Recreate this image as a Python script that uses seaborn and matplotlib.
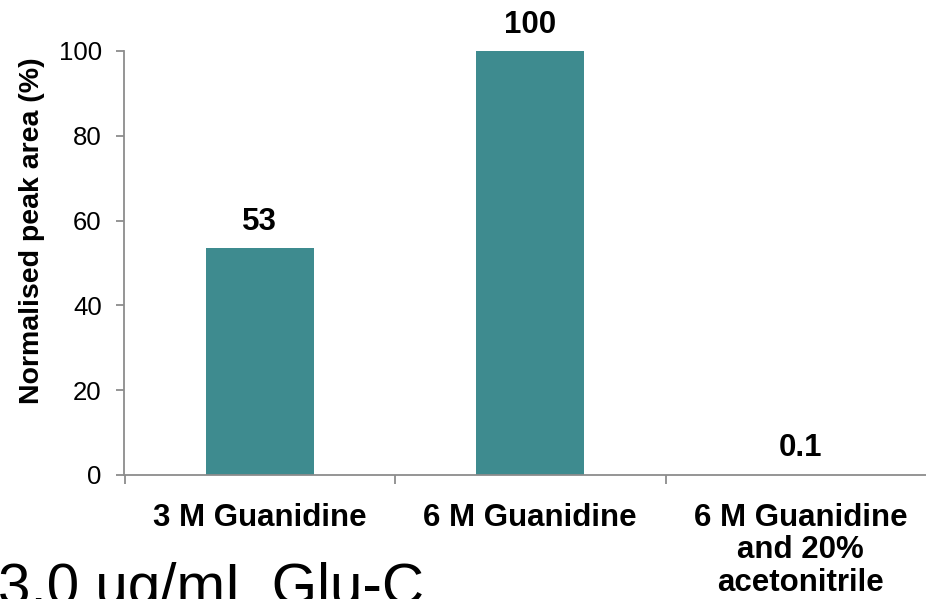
import matplotlib
matplotlib.use("Agg")
import matplotlib.pyplot as plt
import seaborn as sns
import pandas as pd
from matplotlib.ticker import FixedLocator

categories = ["3 M Guanidine", "6 M Guanidine", "6 M Guanidine\nand 20%\nacetonitrile"]
values = [53.5, 100, 0.1]
value_labels = ["53", "100", "0.1"]
y_ticks = [0, 20, 40, 60, 80, 100]
y_label = "Normalised peak area (%)"
footer = "3.0 ug/mL Glu-C"

sns.set_style("white")
plt.rcParams["font.family"] = ["Liberation Sans", "DejaVu Sans"]
plt.rcParams["text.color"] = "black"
plt.rcParams["xtick.labelcolor"] = "black"
plt.rcParams["ytick.labelcolor"] = "black"

W, H = 926, 599
fig = plt.figure(figsize=(W / 100, H / 100), dpi=100)
ax_left, ax_right = 124.5, 936.0
ax_top, ax_bottom = 51.0, 475.0
ax = fig.add_axes([ax_left / W, (H - ax_bottom) / H, (ax_right - ax_left) / W, (ax_bottom - ax_top) / H])

df = pd.DataFrame({"cat": categories, "val": values})
bar_color = "#3E8B8F"
sns.barplot(data=df, x="cat", y="val", color=bar_color, width=0.4, ax=ax,
            saturation=1, edgecolor="none", linewidth=0)

ax.set_xlim(-0.5, 2.5)
ax.set_ylim(0, 100)
ax.set_yticks(y_ticks)
ax.set_xlabel("")
ax.set_ylabel("")

spine_color = "#8C8C8C"
for s in ["top", "right"]:
    ax.spines[s].set_visible(False)
for s in ["left", "bottom"]:
    ax.spines[s].set_color(spine_color)
    ax.spines[s].set_linewidth(1.3)
ax.spines["bottom"].set_clip_on(False)

ax.tick_params(axis="y", which="major", direction="out", length=5.8, width=1.3,
               color=spine_color, labelsize=18.5, pad=10.5, left=True,
               labelcolor="black")
ax.tick_params(axis="x", which="major", length=0, labelsize=22.5, pad=20,
               labelcolor="black")
ax.xaxis.set_minor_locator(FixedLocator([-0.5, 0.5, 1.5, 2.5]))
ax.tick_params(axis="x", which="minor", direction="out", length=6.5, width=1.3,
               color=spine_color, bottom=True)
for lab in ax.get_xticklabels():
    lab.set_fontweight("bold")
    lab.set_linespacing(1.11)
    lab.set_multialignment("center")

for i, (v, t) in enumerate(zip(values, value_labels)):
    ax.annotate(t, xy=(i, v), xytext=(0, 8), textcoords="offset points",
                ha="center", va="bottom", fontsize=22.5, fontweight="bold",
                color="black", annotation_clip=False)

fig.text(32 / W, (H - 231) / H, y_label, rotation=90, ha="center", va="center",
         fontsize=20.5, fontweight="bold", color="black")

fig.text(-2 / W, (H - 604) / H, footer, ha="left", va="baseline", fontsize=42,
         color="black")

fig.savefig("out.png", dpi=100)
